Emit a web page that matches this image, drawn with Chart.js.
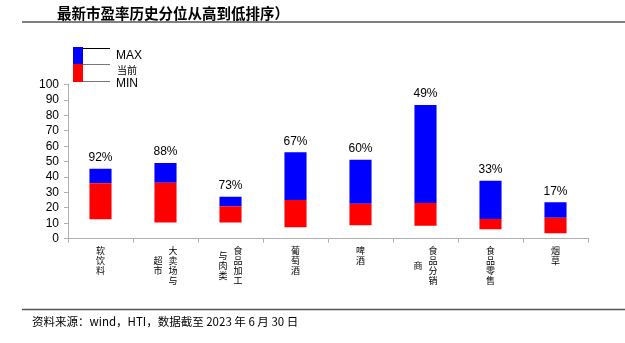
<!DOCTYPE html>
<html>
<head>
<meta charset="utf-8">
<script src="https://cdn.jsdelivr.net/npm/chart.js@4"></script>
<style>
  body { margin: 0; background: #fff; }
  canvas { display: block; }
</style>
</head>
<body>
<canvas id="c" width="625" height="343"></canvas>
<script>
// categories, each split into the vertical text columns shown under the axis
const categories = ['软饮料', '大卖场与超市', '食品加工与肉类', '葡萄酒', '啤酒', '食品分销商', '食品零售', '烟草'];
const labelColumns = [['软饮料'], ['大卖场与', '超市'], ['食品加工', '与肉类'], ['葡萄酒'], ['啤酒'], ['食品分销', '商'], ['食品零售'], ['烟草']];

// PE values
const maxPE = [45.5, 49.2, 27.3, 56.1, 51.3, 86.8, 37.7, 23.6];
const currentPE = [36.0, 36.4, 21.0, 25.1, 22.7, 23.2, 12.8, 13.6];
const minPE = [12.6, 10.6, 10.6, 7.4, 8.7, 8.4, 6.1, 3.5];
const percentile = [92, 88, 73, 67, 60, 49, 33, 17];

const titleText = '最新市盈率历史分位从高到低排序）';
const sourceText = '资料来源：wind，HTI，数据截至 2023 年 6 月 30 日';

const CJK = '"Noto Sans CJK SC", sans-serif';
const LATIN = '"Liberation Sans", Arial, sans-serif';

const decor = {
  id: 'decor',
  afterDraw(chart) {
    const ctx = chart.ctx;
    const x = chart.scales.x;
    ctx.save();

    // title + rules
    ctx.fillStyle = '#000';
    ctx.font = 'bold 14.5px ' + CJK;
    ctx.textBaseline = 'middle';
    ctx.textAlign = 'left';
    ctx.fillText(titleText, 57, 13);
    ctx.strokeStyle = '#555';
    ctx.lineWidth = 1.5;
    ctx.beginPath();
    ctx.moveTo(22, 22); ctx.lineTo(625, 22);
    ctx.moveTo(22, 309.5); ctx.lineTo(625, 309.5);
    ctx.stroke();

    ctx.font = '11.5px ' + CJK;
    ctx.fillText(sourceText, 32, 322);

    // legend
    ctx.fillStyle = '#0000ff';
    ctx.fillRect(73, 47, 10, 17);
    ctx.fillStyle = '#ff0000';
    ctx.fillRect(73, 64, 10, 18);
    ctx.lineWidth = 1;
    ctx.strokeStyle = '#000';
    ctx.beginPath(); ctx.moveTo(83, 48.5); ctx.lineTo(110, 48.5); ctx.stroke();
    ctx.strokeStyle = '#777';
    ctx.beginPath(); ctx.moveTo(83, 64.5); ctx.lineTo(110, 64.5); ctx.moveTo(83, 81.5); ctx.lineTo(110, 81.5); ctx.stroke();
    ctx.fillStyle = '#000';
    ctx.font = '12px ' + LATIN;
    ctx.fillText('MAX', 116, 56);
    ctx.fillText('MIN', 116, 84);
    ctx.font = '10px ' + CJK;
    ctx.fillText('当前', 117, 70);

    // percentile labels above bars
    const top = chart.getDatasetMeta(1);
    ctx.font = '12px ' + LATIN;
    ctx.textAlign = 'center';
    top.data.forEach((bar, i) => {
      ctx.fillText(percentile[i] + '%', bar.x, bar.y - 11);
    });

    // vertical category labels
    ctx.font = '9px ' + CJK;
    labelColumns.forEach((cols, i) => {
      const cx = x.getPixelForValue(i);
      const n0 = cols[0].length;
      cols.forEach((col, k) => {
        const colX = cols.length === 1 ? cx : cx + 7.5 - k * 15;
        const off = (n0 - col.length) / 2;
        [...col].forEach((ch, r) => {
          ctx.fillText(ch, colX, 251 + (r + off) * 10);
        });
      });
    });
    ctx.restore();
  }
};

new Chart(document.getElementById('c'), {
  type: 'bar',
  data: {
    labels: categories,
    datasets: [
      {
        label: '当前',
        data: minPE.map((v, i) => [v, currentPE[i]]),
        backgroundColor: '#ff0000',
        grouped: false,
        barPercentage: 0.34,
        categoryPercentage: 1
      },
      {
        label: 'MAX',
        data: currentPE.map((v, i) => [v, maxPE[i]]),
        backgroundColor: '#0000ff',
        grouped: false,
        barPercentage: 0.34,
        categoryPercentage: 1
      }
    ]
  },
  options: {
    responsive: false,
    animation: false,
    layout: { padding: { left: 0, right: 37, top: 84.7, bottom: 0 } },
    plugins: { legend: { display: false }, tooltip: { enabled: false } },
    scales: {
      x: {
        offset: true,
        grid: { drawOnChartArea: false, tickLength: 4, color: '#b0b0b0', offset: true },
        border: { color: '#b0b0b0' },
        ticks: { display: false },
        afterFit(s) { s.height = 343 - 238.7; }
      },
      y: {
        min: 0,
        max: 100,
        grid: { drawOnChartArea: false, tickLength: 4, color: '#b0b0b0' },
        border: { color: '#b0b0b0' },
        ticks: { stepSize: 10, autoSkip: false, padding: 5, color: '#000', font: { family: 'Liberation Sans', size: 12 } },
        afterFit(s) { s.width = 68; }
      }
    }
  },
  plugins: [decor]
});
</script>
</body>
</html>
